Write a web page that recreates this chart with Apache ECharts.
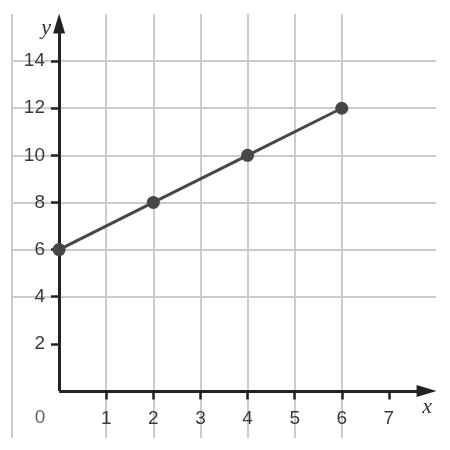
<!DOCTYPE html>
<html><head><meta charset="utf-8">
<script src="https://cdn.jsdelivr.net/npm/echarts@6/dist/echarts.min.js"></script>
<style>html,body{margin:0;padding:0;background:#fff}#c{width:450px;height:450px}</style>
</head><body><div id="c"></div>
<script>
var xValues = [0, 2, 4, 6];
var yValues = [6, 8, 10, 12];
var xTickLabels = [1, 2, 3, 4, 5, 6, 7];
var yTickLabels = [2, 4, 6, 8, 10, 12, 14];
var xRange = [-1, 8];
var yRange = [-2, 16];

var labelFont = '"Liberation Sans", Arial, sans-serif';
var axisColor = '#222';
var gridColor = '#cbcbcb';

var chart = echarts.init(document.getElementById('c'));
chart.setOption({
  animation: false,
  grid: { left: 12, right: 14, top: 14, bottom: 12, containLabel: false, outerBoundsMode: 'none' },
  xAxis: {
    type: 'value', min: xRange[0], max: xRange[1], interval: 1,
    position: 'bottom', offset: -46.5,
    axisLine: { show: false, onZero: false },
    axisTick: { show: true, customValues: xTickLabels, length: 8, lineStyle: { color: axisColor, width: 2.5 } },
    axisLabel: { show: true, customValues: xTickLabels, margin: 18, fontSize: 19, color: '#3a3a3a', fontFamily: labelFont },
    splitLine: { show: true, showMinLine: true, showMaxLine: false, lineStyle: { color: gridColor, width: 2 } },
    name: 'x', nameLocation: 'end', nameGap: -4,
    nameTextStyle: { fontFamily: '"Liberation Serif", serif', fontStyle: 'italic', fontSize: 22, color: '#333', align: 'right', verticalAlign: 'top', padding: [5, 0, 0, 0] }
  },
  yAxis: {
    type: 'value', min: yRange[0], max: yRange[1], interval: 2,
    position: 'left', offset: -47,
    axisLine: { show: false, onZero: false },
    axisTick: { show: true, customValues: yTickLabels, length: 8, lineStyle: { color: axisColor, width: 2.5 } },
    axisLabel: { show: true, customValues: yTickLabels, margin: 14, fontSize: 19, color: '#3a3a3a', fontFamily: labelFont },
    splitLine: { show: true, showMinLine: false, showMaxLine: true, lineStyle: { color: gridColor, width: 2 } },
    name: 'y', nameLocation: 'end', nameGap: -14,
    nameTextStyle: { fontFamily: '"Liberation Serif", serif', fontStyle: 'italic', fontSize: 22, color: '#333', align: 'right', verticalAlign: 'middle', padding: [0, 8, 0, 0] }
  },
  series: [
    {
      type: 'line',
      data: [],
      silent: true,
      markLine: {
        silent: true, animation: false,
        symbol: ['none', 'none'],
        label: { show: false },
        lineStyle: { color: gridColor, width: 2, type: 'solid' },
        data: [{ xAxis: xRange[0] }]
      }
    },
    {
      type: 'line',
      data: xValues.map(function (x, i) { return [x, yValues[i]]; }),
      symbol: 'circle', symbolSize: 13,
      lineStyle: { color: '#474747', width: 3 },
      itemStyle: { color: '#474747' },
      z: 5,
      markLine: {
        silent: true, animation: false,
        symbol: ['none', 'triangle'], symbolSize: [12, 20],
        label: { show: false },
        lineStyle: { color: axisColor, width: 3, type: 'solid' },
        data: [
          [{ coord: [0, 0] }, { coord: [xRange[1] - 0.2, 0] }],
          [{ coord: [0, 0] }, { coord: [0, yRange[1] - 0.4] }]
        ]
      }
    },
    {
      type: 'scatter',
      data: [[0, 0]],
      symbolSize: 0,
      silent: true,
      label: { show: true, formatter: '0', position: 'inside', offset: [-19, 27], fontSize: 19, color: '#3a3a3a', fontFamily: labelFont }
    }
  ]
});
</script></body></html>
